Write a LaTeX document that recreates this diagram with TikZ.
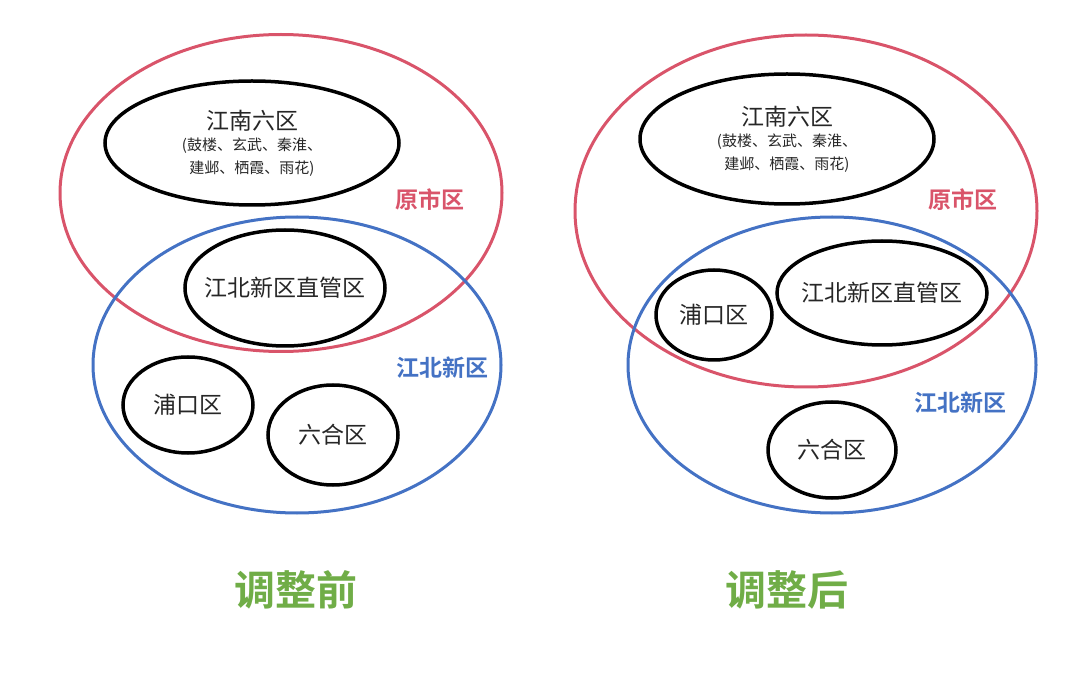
\documentclass[tikz,border=0pt]{standalone}
\usepackage{fontspec}
\newfontfamily\cjk{Noto Sans CJK SC}
\newfontfamily\cjkbf{Noto Sans CJK SC Bold}
\usetikzlibrary{shapes.geometric,positioning}
\definecolor{cityred}{RGB}{217,84,106}
\definecolor{northblue}{RGB}{68,114,196}
\definecolor{titlegreen}{RGB}{112,173,71}

\begin{document}
\begin{tikzpicture}[x=1pt,y=-1pt,font=\cjk]
\tikzstyle{zone}=[ellipse,draw,line width=3pt,inner sep=0pt]
\tikzstyle{dist}=[ellipse,draw=black,line width=3.5pt,inner xsep=-12pt,inner ysep=0pt,text=black!85,font=\cjk\fontsize{23}{26}\selectfont,align=center]
\tikzstyle{zlabel}=[font=\cjkbf\fontsize{23}{26}\selectfont]
\tikzstyle{ttl}=[font=\cjkbf\fontsize{41}{44}\selectfont,text=titlegreen]
\newcommand{\subline}[1]{{\fontsize{15}{18}\selectfont #1}}
\useasboundingbox (0,0) rectangle (1080,676);
% before
\node[zone,draw=cityred,minimum width=442pt,minimum height=317pt] (oldL) at (281,193) {};
\node[zone,draw=northblue,minimum width=408pt,minimum height=296pt] (newL) at (297,365) {};
\node[dist,minimum width=294pt,minimum height=124pt] (southL) at (252,143) {江南六区\\[-5pt]\subline{(鼓楼、玄武、秦淮、}\\[-3pt]\subline{建邺、栖霞、雨花)}};
\node[dist,minimum width=200pt,minimum height=116pt] (directL) at (285,288) {江北新区直管区};
\node[dist,minimum width=130pt,minimum height=96pt] (pukouL) at (188,405) {浦口区};
\node[dist,minimum width=130pt,minimum height=100pt] (liuheL) at (333,435) {六合区};
\node[zlabel,text=cityred] (oldLabL) at (430,200) {原市区};
\node[zlabel,text=northblue] (newLabL) at (442,368) {江北新区};
\node[ttl] (before) at (296,590) {调整前};
% after
\node[zone,draw=cityred,minimum width=462pt,minimum height=352pt] (oldR) at (806,211) {};
\node[zone,draw=northblue,minimum width=408pt,minimum height=296pt] (newR) at (832,365) {};
\node[dist,minimum width=294pt,minimum height=130pt] (southR) at (787,139) {江南六区\\[-5pt]\subline{(鼓楼、玄武、秦淮、}\\[-3pt]\subline{建邺、栖霞、雨花)}};
\node[dist,minimum width=210pt,minimum height=104pt] (directR) at (882,293) {江北新区直管区};
\node[dist,minimum width=116pt,minimum height=90pt] (pukouR) at (714,315) {浦口区};
\node[dist,minimum width=128pt,minimum height=96pt] (liuheR) at (832,450) {六合区};
\node[zlabel,text=cityred] (oldLabR) at (963,200) {原市区};
\node[zlabel,text=northblue] (newLabR) at (960,403) {江北新区};
\node[ttl] (after) at (787,590) {调整后};
\end{tikzpicture}
\end{document}
